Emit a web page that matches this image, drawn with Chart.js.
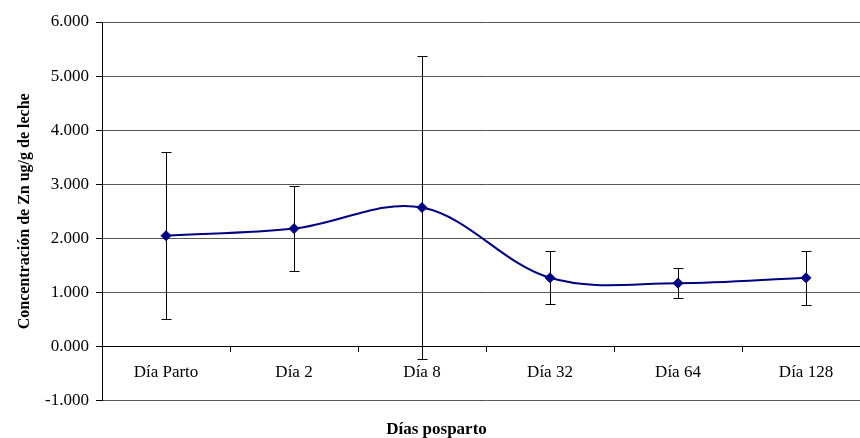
<!DOCTYPE html>
<html>
<head>
<meta charset="utf-8">
<script src="https://cdn.jsdelivr.net/npm/chart.js@4.4.1/dist/chart.umd.min.js"></script>
<style>
  html, body { margin: 0; padding: 0; background: #fff; overflow: hidden; }
  #wrap { position: relative; width: 876px; height: 444px; }
</style>
</head>
<body>
<div id="wrap"><canvas id="c"></canvas></div>
<script>
// Zinc concentration in milk by postpartum day (mean ± deviation)
const categories = ['Día Parto', 'Día 2', 'Día 8', 'Día 32', 'Día 64', 'Día 128'];
const means = [2.05, 2.18, 2.57, 1.27, 1.17, 1.27];
const deviations = [1.55, 0.79, 2.81, 0.49, 0.28, 0.50];
const yMin = -1, yMax = 6, yStep = 1;

const FONT = '"Liberation Serif", "Times New Roman", serif';

// Vertical error bars with short caps, drawn beneath the line and markers
const errorBars = {
  id: 'errorBars',
  beforeDatasetsDraw(chart) {
    const { ctx, scales: { x, y } } = chart;
    ctx.save();
    ctx.strokeStyle = '#000';
    ctx.lineWidth = 1;
    means.forEach((m, i) => {
      const px = Math.round(x.getPixelForValue(i)) + 0.5;
      const top = Math.round(y.getPixelForValue(m + deviations[i])) + 0.5;
      const bot = Math.round(y.getPixelForValue(m - deviations[i])) + 0.5;
      ctx.beginPath();
      ctx.moveTo(px, top); ctx.lineTo(px, bot);
      ctx.moveTo(px - 5, top); ctx.lineTo(px + 5, top);
      ctx.moveTo(px - 5, bot); ctx.lineTo(px + 5, bot);
      ctx.stroke();
    });
    ctx.restore();
  }
};

new Chart(document.getElementById('c'), {
  type: 'line',
  data: {
    labels: categories,
    datasets: [{
      data: means,
      borderColor: '#000080',
      backgroundColor: '#000080',
      borderWidth: 2,
      tension: 0.35,
      pointStyle: 'rectRot',
      pointRadius: 5,
      pointBorderWidth: 1,
      pointBorderColor: '#000080',
      pointBackgroundColor: '#000080',
      clip: false
    }]
  },
  plugins: [errorBars],
  options: {
    responsive: true,
    maintainAspectRatio: false,
    animation: false,
    layout: { padding: { left: 0, right: 3, top: 22, bottom: 0 } },
    plugins: {
      legend: { display: false },
      tooltip: { enabled: false },
      title: {
        display: true,
        position: 'bottom',
        text: 'Días posparto',
        color: '#000',
        font: { family: FONT, size: 17, weight: 'bold' },
        padding: { top: 19, bottom: 4 }
      }
    },
    scales: {
      x: {
        type: 'category',
        position: { y: 0 },
        offset: true,
        grid: {
          offset: true,
          drawOnChartArea: false,
          drawTicks: true,
          tickLength: 5,
          tickColor: '#000'
        },
        border: { color: '#000', width: 1 },
        ticks: {
          color: '#000',
          font: { family: FONT, size: 17 },
          padding: 11,
          maxRotation: 0,
          autoSkip: false
        }
      },
      y: {
        min: yMin,
        max: yMax,
        afterFit(scale) { scale.width = 102; },
        grid: {
          color: '#555',
          lineWidth: 1,
          drawTicks: true,
          tickLength: 6,
          tickColor: '#000'
        },
        border: { color: '#000', width: 1 },
        ticks: {
          stepSize: yStep,
          color: '#000',
          font: { family: FONT, size: 17 },
          padding: 7,
          callback: v => v.toFixed(3)
        },
        title: {
          display: true,
          text: 'Concentración de Zn ug/g de leche',
          color: '#000',
          font: { family: FONT, size: 16, weight: 'bold' },
          padding: { top: 15, bottom: 0 }
        }
      }
    }
  }
});
</script>
</body>
</html>
